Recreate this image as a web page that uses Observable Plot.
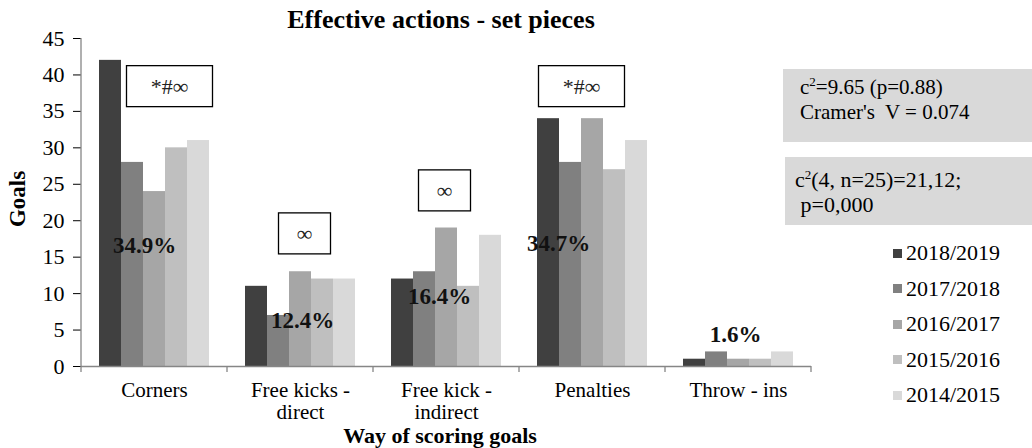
<!DOCTYPE html>
<html><head><meta charset="utf-8">
<script src="https://cdn.jsdelivr.net/npm/d3@7"></script>
<script src="https://cdn.jsdelivr.net/npm/@observablehq/plot@0.6"></script>
<style>
body{margin:0;background:#fff;}
#wrap{position:relative;width:1032px;height:448px;font-family:"Liberation Serif","Times New Roman",serif;color:#000;overflow:hidden;}
#wrap svg{position:absolute;left:0;top:0;}
.ov{position:absolute;white-space:nowrap;}
.stat{position:absolute;background:#d9d9d9;font-size:21px;line-height:25px;box-sizing:border-box;}
.stat sup{font-size:13px;vertical-align:8px;line-height:0;}
.lg{position:absolute;left:893px;font-size:22px;line-height:22px;display:flex;align-items:center;}
.lg span.sw{display:inline-block;width:9px;height:9px;margin-right:4px;}
</style></head><body><div id="wrap"></div>
<script>
const categories = ["Corners", "Free kicks - direct", "Free kick - indirect", "Penalties", "Throw - ins"];
const categoryTickLabels = ["Corners", "Free kicks -\ndirect", "Free kick -\nindirect", "Penalties", "Throw - ins"];
const seasons = ["2018/2019", "2017/2018", "2016/2017", "2015/2016", "2014/2015"];
const goals2018_2019 = [42, 11, 12, 34, 1];
const goals2017_2018 = [28, 7, 13, 28, 2];
const goals2016_2017 = [24, 13, 19, 34, 1];
const goals2015_2016 = [30, 12, 11, 27, 1];
const goals2014_2015 = [31, 12, 18, 31, 2];
const shareLabels = ["34.9%", "12.4%", "16.4%", "34.7%", "1.6%"];
const testMarkers = ["*#∞", "∞", "∞", "*#∞", ""];
const yTicks = [0, 5, 10, 15, 20, 25, 30, 35, 40, 45];
const seasonColors = ["#404040", "#808080", "#a6a6a6", "#bfbfbf", "#d9d9d9"];
const titleText = "Effective actions - set pieces";
const xLabel = "Way of scoring goals";
const yLabel = "Goals";
const statLines1 = ["c<sup>2</sup>=9.65 (p=0.88)", "Cramer's&nbsp; V = 0.074"];
const statLines2 = ["c<sup>2</sup>(4, n=25)=21,12;", "&nbsp;p=0,000"];

const series = [goals2018_2019, goals2017_2018, goals2016_2017, goals2015_2016, goals2014_2015];
const rows = [];
categories.forEach((c, j) => seasons.forEach((s, i) => rows.push({category: c, season: s, goals: series[i][j]})));

// annotation placement (layout, in data units / pixel offsets)
const shareLayout = [{y: 16.6, dx: -10}, {y: 6.3, dx: 2}, {y: 9.6, dx: -7}, {y: 16.9, dx: -34}, {y: 4.4, dx: -3}];
const markerLayout = [{y: 38.4, dx: 15}, {y: 18.2, dx: 4}, {y: 24.1, dx: -2}, {y: 38.4, dx: -11}, null];

const annotationMarks = [];
categories.forEach((c, i) => {
  annotationMarks.push(Plot.text([shareLabels[i]], {
    fx: () => c, y: () => shareLayout[i].y, text: d => d, dx: shareLayout[i].dx,
    fontWeight: "bold", fontSize: 23, fill: "#111"
  }));
  if (testMarkers[i]) annotationMarks.push(Plot.text([testMarkers[i]], {
    fx: () => c, y: () => markerLayout[i].y, text: d => d, dx: markerLayout[i].dx,
    fontSize: 22, fill: "#222"
  }));
});

const plot = Plot.plot({
  width: 1032, height: 448,
  marginTop: 38, marginBottom: 82, marginLeft: 80, marginRight: 220,
  style: {fontFamily: "'Liberation Serif', 'Times New Roman', serif", fontSize: "22px", color: "#000", background: "transparent"},
  fx: {domain: categories, padding: 0, label: null},
  x: {domain: seasons, paddingInner: 0, paddingOuter: 0.77, align: 0.5, axis: null},
  y: {domain: [0, 45], ticks: yTicks, tickSize: 8, tickPadding: 9, label: null},
  color: {domain: seasons, range: seasonColors},
  marks: [
    Plot.barY(rows, {fx: "category", x: "season", y: "goals", fill: "season"}),
    Plot.ruleY([0], {stroke: "#868686", strokeWidth: 1.3}),
    Plot.axisFx({anchor: "bottom", tickSize: 0, tickPadding: 14, lineHeight: 1.08, fontSize: 21, label: null,
      tickFormat: c => categoryTickLabels[categories.indexOf(c)]}),
    ...annotationMarks
  ]
});

const wrap = document.getElementById("wrap");
wrap.appendChild(plot);

// y axis line and category boundary ticks from the library's scales
const ys = plot.scale("y"), fxs = plot.scale("fx");
const svg = d3.select(plot);
const y0 = ys.apply(0), y45 = ys.apply(45);
const left = fxs.apply(categories[0]);
svg.append("line").attr("x1", left).attr("x2", left).attr("y1", y45).attr("y2", y0 + 0.5)
  .attr("stroke", "#868686").attr("stroke-width", 1.3);
const bounds = categories.map(c => fxs.apply(c));
bounds.push(fxs.apply(categories[categories.length - 1]) + fxs.bandwidth);
bounds.forEach(b => svg.append("line").attr("x1", b).attr("x2", b).attr("y1", y0).attr("y2", y0 + 6)
  .attr("stroke", "#868686").attr("stroke-width", 1.3));
svg.selectAll("[aria-label='y-axis tick']").attr("stroke", "#868686");

// boxes around test markers
svg.selectAll("text").each(function() {
  const t = this.textContent;
  if (t !== "*#∞" && t !== "∞") return;
  const bb = this.getBBox();
  const w = t === "∞" ? 52 : 86, h = 41;
  const r = document.createElementNS("http://www.w3.org/2000/svg", "rect");
  r.setAttribute("x", bb.x + bb.width / 2 - w / 2);
  r.setAttribute("y", bb.y + bb.height / 2 - h / 2);
  r.setAttribute("width", w); r.setAttribute("height", h);
  r.setAttribute("fill", "#fff"); r.setAttribute("stroke", "#000"); r.setAttribute("stroke-width", 1.3);
  const tr = this.getAttribute("transform"); if (tr) r.setAttribute("transform", tr);
  this.parentNode.insertBefore(r, this);
});

// title and axis labels
function ov(html, css) { const d = document.createElement("div"); d.className = "ov"; d.innerHTML = html; d.style.cssText += css; wrap.appendChild(d); return d; }
ov(titleText, "left:0;width:882px;text-align:center;top:5px;font-weight:bold;font-size:26px;line-height:30px;");
ov(xLabel, "left:0;width:880px;text-align:center;top:425px;font-weight:bold;font-size:22px;line-height:22px;");
ov(yLabel, "left:18px;top:199px;font-weight:bold;font-size:23px;line-height:24px;transform:translate(-50%,-50%) rotate(-90deg);");

// stat boxes
const s1 = document.createElement("div"); s1.className = "stat";
s1.style.cssText = "left:783px;top:69px;width:249px;height:73px;padding:6px 0 0 17px;";
s1.innerHTML = statLines1.join("<br>"); wrap.appendChild(s1);
const s2 = document.createElement("div"); s2.className = "stat";
s2.style.cssText = "left:785px;top:157px;width:247px;height:68px;padding:10px 0 0 10px;font-size:22px;";
s2.innerHTML = statLines2.join("<br>"); wrap.appendChild(s2);

// legend
seasons.forEach((s, i) => {
  const d = document.createElement("div"); d.className = "lg";
  d.style.top = (242 + i * 35.6) + "px";
  d.innerHTML = `<span class="sw" style="background:${seasonColors[i]}"></span>${s}`;
  wrap.appendChild(d);
});
</script></body></html>
